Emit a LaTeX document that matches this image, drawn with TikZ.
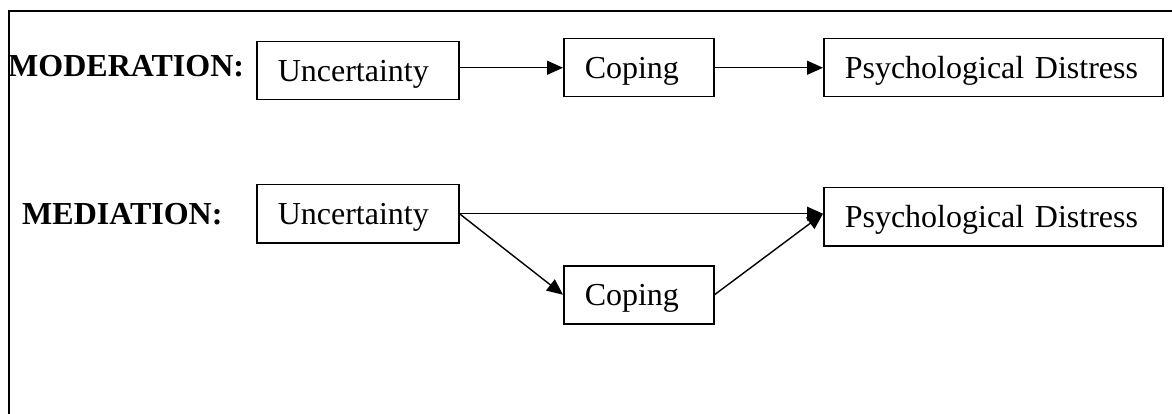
\documentclass[tikz,border=0pt]{standalone}
\usepackage{fontspec}
\setmainfont{Liberation Serif}
\usetikzlibrary{arrows.meta}
\begin{document}
\begin{tikzpicture}[x=1pt,y=-1pt,
  box/.style={draw, line width=1.5pt, anchor=north west, minimum height=58pt,
    inner xsep=21pt, inner ysep=0pt, align=left, text height=27pt, text depth=6pt,
    font=\fontsize{32}{36}\selectfont},
  lab/.style={anchor=base west, inner sep=0pt, font=\fontsize{32}{36}\selectfont\bfseries},
  arr/.style={line width=1.4pt, -{Triangle[length=16pt,width=14pt]}},
  frame/.style={line width=1.7pt}]
\useasboundingbox (0,0) rectangle (1172,414);
\draw[frame] (9,414) -- (9,11) -- (1172,11);
% moderation
\node[lab] (mod) at (8,77) {MODERATION:};
\node[box, minimum width=202pt, text width=160pt] (u1) at (256,41) {Uncertainty};
\node[box, minimum width=150pt, text width=108pt] (c1) at (563,38) {Coping};
\node[box, minimum width=339pt, text width=297pt] (p1) at (823,38) {Psychological Distress};
\draw[arr] (u1.east |- c1.west) -- (c1.west);
\draw[arr] (c1.east) -- (p1.west);
% mediation
\node[lab] (med) at (22,224) {MEDIATION:};
\node[box, minimum width=202pt, text width=160pt] (u2) at (256,184) {Uncertainty};
\node[box, minimum width=339pt, text width=297pt] (p2) at (823,187) {Psychological Distress};
\node[box, minimum width=150pt, text width=108pt] (c2) at (563,265) {Coping};
\coordinate (pin) at (p2.west |- u2.east);
\draw[arr] (u2.east) -- (pin);
\draw[arr] (u2.east) -- (c2.west);
\draw[arr] (c2.east) -- (pin);
\end{tikzpicture}
\end{document}
